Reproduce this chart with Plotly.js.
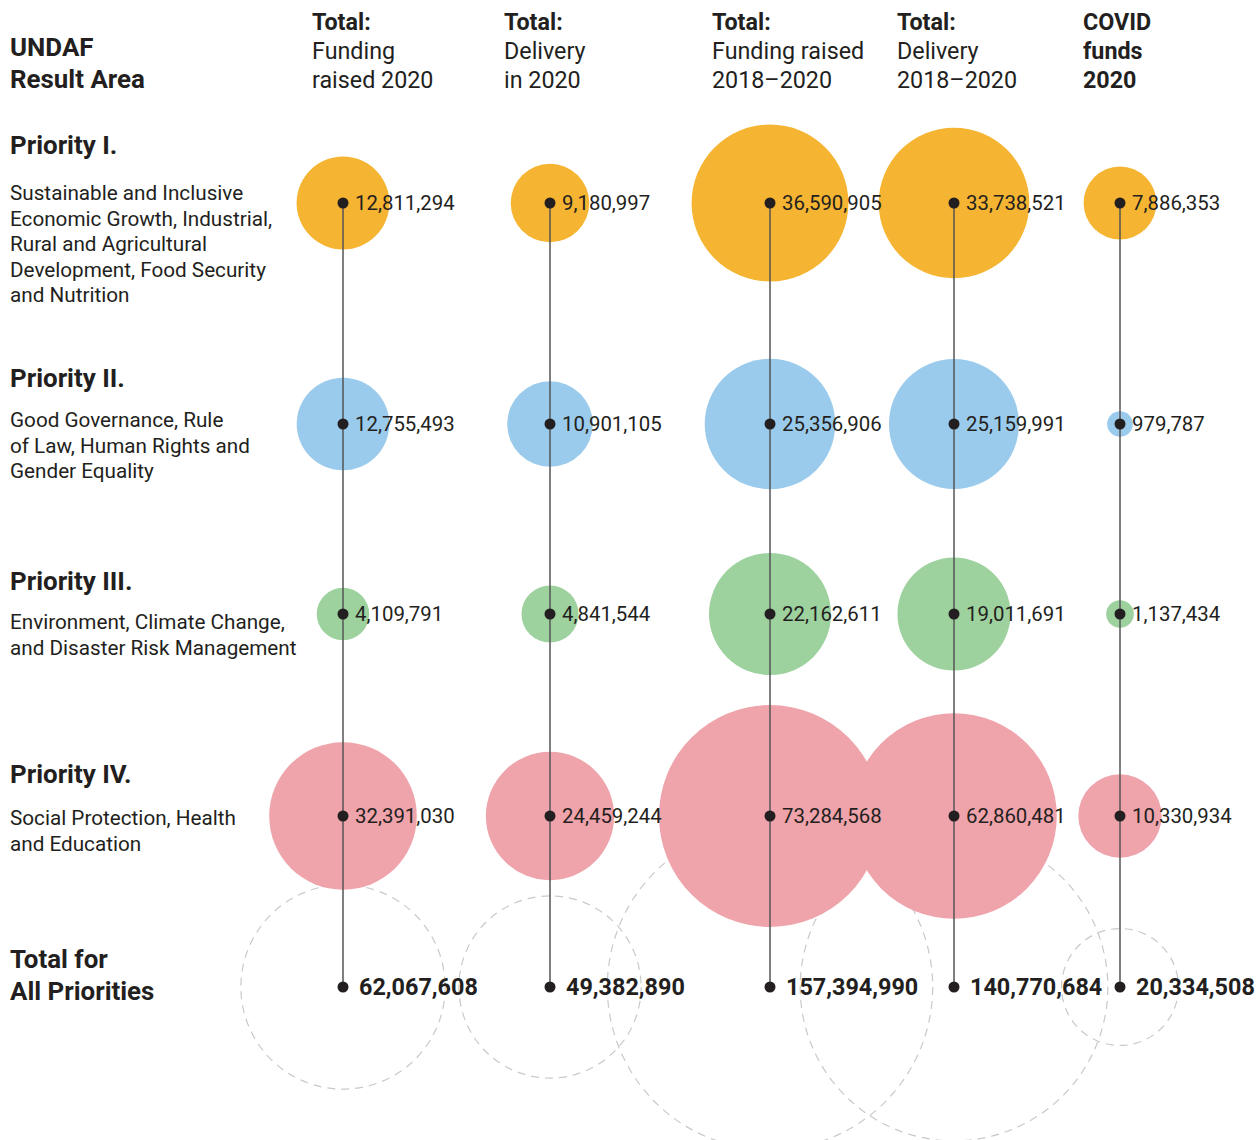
<!DOCTYPE html>
<html>
<head>
<meta charset="utf-8">
<script src="https://cdn.plot.ly/plotly-3.0.1.min.js"></script>
<style>
  html, body { margin: 0; padding: 0; background: #ffffff; }
  #chart { width: 1260px; height: 1140px; }
</style>
</head>
<body>
<div id="chart"></div>
<script>
// ---------------- DATA ----------------
const columnTitles = [
  ["<b>Total:</b>", "Funding", "raised 2020"],
  ["<b>Total:</b>", "Delivery", "in 2020"],
  ["<b>Total:</b>", "Funding raised", "2018–2020"],
  ["<b>Total:</b>", "Delivery", "2018–2020"],
  ["<b>COVID</b>", "<b>funds</b>", "<b>2020</b>"]
];
const priorityNames = ["Priority I.", "Priority II.", "Priority III.", "Priority IV."];
const priorityDescriptions = [
  ["Sustainable and Inclusive", "Economic Growth, Industrial,", "Rural and Agricultural", "Development, Food Security", "and Nutrition"],
  ["Good Governance, Rule", "of Law, Human Rights and", "Gender Equality"],
  ["Environment, Climate Change,", "and Disaster Risk Management"],
  ["Social Protection, Health", "and Education"]
];
const totalRowLabel = ["Total for", "All Priorities"];
const cornerLabel = ["UNDAF", "Result Area"];

// values per column, rows = Priority I..IV
const fundingRaised2020     = [12811294, 12755493, 4109791, 32391030];
const delivery2020          = [9180997, 10901105, 4841544, 24459244];
const fundingRaised2018_20  = [36590905, 25356906, 22162611, 73284568];
const delivery2018_20       = [33738521, 25159991, 19011691, 62860481];
const covidFunds2020        = [7886353, 979787, 1137434, 10330934];
const totalsAllPriorities   = [62067608, 49382890, 157394990, 140770684, 20334508];

// ---------------- LAYOUT / STYLE ----------------
const colX = [343, 550, 770, 954, 1120];          // column centres (px grid)
const rowY = [203, 424, 614, 816, 987];           // row centres (px grid)
const headerX = [312, 504, 712, 897, 1083];
const rowColors = ["#F5B431", "#9BCBEC", "#9DD19E", "#EFA3AA"];
const ink = "#231f20";
const FONT = "Roboto, 'Noto Sans', sans-serif";
const SIZEREF = 2974;   // area-proportional bubbles

const columns = [fundingRaised2020, delivery2020, fundingRaised2018_20, delivery2018_20, covidFunds2020];
const fmt = v => v.toLocaleString("en-US");

const traces = [];

// bubbles: one trace per priority row
priorityNames.forEach((name, r) => {
  traces.push({
    type: "scatter", mode: "markers", name: name,
    x: colX, y: colX.map(() => rowY[r]),
    marker: {
      size: columns.map(col => col[r]),
      sizemode: "area", sizeref: SIZEREF,
      color: rowColors[r], line: { width: 0 }, opacity: 1
    },
    hoverinfo: "skip", showlegend: false
  });
});

// vertical connector lines
colX.forEach(cx => {
  traces.push({
    type: "scatter", mode: "lines",
    x: [cx, cx], y: [rowY[0], rowY[4]],
    line: { color: "#555555", width: 1.5 },
    hoverinfo: "skip", showlegend: false
  });
});

// dots
const dotX = [], dotY = [];
colX.forEach(cx => rowY.forEach(ry => { dotX.push(cx); dotY.push(ry); }));
traces.push({
  type: "scatter", mode: "markers",
  x: dotX, y: dotY,
  marker: { size: 11, color: ink },
  hoverinfo: "skip", showlegend: false
});

// dashed circles for totals (same area scale as bubbles)
const shapes = totalsAllPriorities.map((v, c) => {
  const r = Math.sqrt(v / (2 * SIZEREF));
  return {
    type: "circle", layer: "below",
    xref: "x", yref: "y",
    xsizemode: "pixel", ysizemode: "pixel",
    xanchor: colX[c], yanchor: rowY[4],
    x0: -r, x1: r, y0: -r, y1: r,
    line: { color: "#c9c9c9", width: 1.2, dash: "8px,6px" },
    fillcolor: "rgba(0,0,0,0)"
  };
});

// annotations
const annotations = [];
function addLines(lines, x, yStart, spacing, size, bold) {
  lines.forEach((t, i) => {
    annotations.push({
      x: x, y: yStart + i * spacing, xref: "x", yref: "y",
      text: bold ? "<b>" + t + "</b>" : t, showarrow: false, align: "left",
      xanchor: "left", yanchor: "middle", borderpad: 0, borderwidth: 0,
      font: { family: FONT, size: size, color: ink }
    });
  });
}
// value labels
columns.forEach((col, c) => {
  col.forEach((v, r) => {
    annotations.push({
      x: colX[c], y: rowY[r], xref: "x", yref: "y",
      text: fmt(v), showarrow: false,
      xanchor: "left", yanchor: "middle", xshift: 12, borderpad: 0, borderwidth: 0,
      font: { family: FONT, size: 20.4, color: ink }
    });
  });
});
totalsAllPriorities.forEach((v, c) => {
  annotations.push({
    x: colX[c], y: rowY[4], xref: "x", yref: "y",
    text: "<b>" + fmt(v) + "</b>", showarrow: false,
    xanchor: "left", yanchor: "middle", xshift: 16, borderpad: 0, borderwidth: 0,
    font: { family: FONT, size: 23.4, color: ink }
  });
});
// headers
columnTitles.forEach((t, c) => addLines(t, headerX[c], 22, 29, 23.3, false));
addLines(cornerLabel, 10, 47, 32, 25.9, true);
// row labels
const nameY = [145, 378, 581, 774];
const descY = [193, 420, 622, 818];
priorityNames.forEach((n, r) => {
  addLines([n], 10, nameY[r], 0, 25.9, true);
  addLines(priorityDescriptions[r], 10, descY[r], 25.5, 20.7, false);
});
addLines(totalRowLabel, 10, 959, 32, 25.9, true);

const layout = {
  width: 1260, height: 1140,
  margin: { l: 0, r: 0, t: 0, b: 0, pad: 0 },
  paper_bgcolor: "#ffffff", plot_bgcolor: "#ffffff",
  xaxis: { range: [0, 1260], visible: false, fixedrange: true },
  yaxis: { range: [1140, 0], visible: false, fixedrange: true },
  showlegend: false,
  shapes: shapes,
  annotations: annotations,
  font: { family: FONT, color: ink }
};

Plotly.newPlot("chart", traces, layout, { displayModeBar: false, staticPlot: true });
</script>
</body>
</html>
